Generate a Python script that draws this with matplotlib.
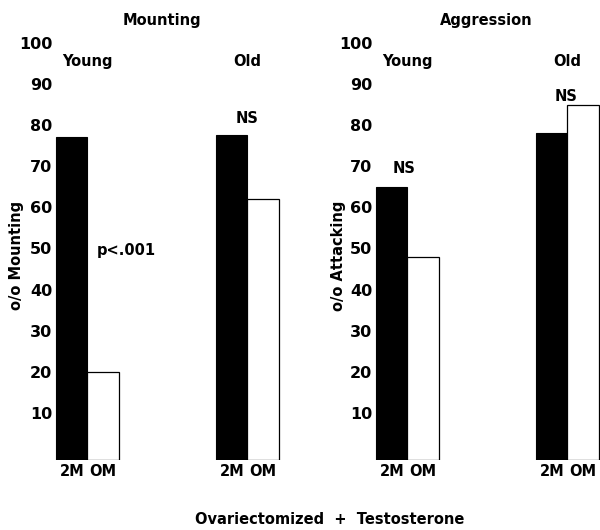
import numpy as np
import matplotlib
matplotlib.use("Agg")
import matplotlib.pyplot as plt

# data (percent of animals)
groups = ["Young", "Old"]
conditions = ["2M", "OM"]
mounting_2m = [77, 77.5]
mounting_om = [20, 62]
attacking_2m = [65, 78]
attacking_om = [48, 85]
yticks = [10, 20, 30, 40, 50, 60, 70, 80, 90, 100]

plt.rcParams['font.family'] = ['DejaVu Sans']
plt.rcParams['font.weight'] = 'bold'

W, H = 600, 530
BASE = -1.5      # bars start a touch below the zero of the tick scale
BAR_W = 0.195
X_LEFT = -0.203  # data x at the axes' left edge
X_SPAN = 1.5


def draw_panel(ax, vals_2m, vals_om, ylabel, label_x):
    x = np.arange(len(groups))
    ax.bar(x - BAR_W / 2, np.asarray(vals_2m) - BASE, BAR_W, bottom=BASE,
           color='black', edgecolor='black', linewidth=0.8)
    ax.bar(x + BAR_W / 2, np.asarray(vals_om) - BASE, BAR_W, bottom=BASE,
           color='white', edgecolor='black', linewidth=0.9)

    ax.set_xlim(X_LEFT, X_LEFT + X_SPAN)
    ax.set_ylim(BASE, 100)
    ax.set_yticks(yticks)
    ax.set_yticklabels([str(t) for t in yticks], fontsize=11.5, fontweight='bold')
    ax.tick_params(axis='y', length=0, pad=2)

    tick_pos = np.concatenate([x - BAR_W / 2, x + BAR_W / 2])
    tick_lab = [conditions[0]] * len(x) + [conditions[1]] * len(x)
    ax.set_xticks(tick_pos)
    ax.set_xticklabels(tick_lab, fontsize=10.5, fontweight='bold')
    ax.tick_params(axis='x', length=0, pad=3)

    for s in ax.spines.values():
        s.set_visible(False)
    ax.patch.set_alpha(0)

    ax.set_ylabel(ylabel, fontsize=10.5, fontweight='bold')
    ax.yaxis.set_label_coords(label_x, 0.49)

    for i, g in enumerate(groups):
        ax.text(x[i], 95.6, g, ha='center', va='center',
                fontsize=10.5, fontweight='bold')


fig = plt.figure(figsize=(W / 100, H / 100), dpi=100)
fig.patch.set_facecolor('white')

bottom = (H - 460) / H
height = (460 - 43) / H

ax1 = fig.add_axes([55 / W, bottom, 240 / W, height])
ax2 = fig.add_axes([375 / W, bottom, 240 / W, height])

draw_panel(ax1, mounting_2m, mounting_om, "o/o Mounting", -0.13)
draw_panel(ax2, attacking_2m, attacking_om, "o/o Attacking", -0.12)

# significance notes
ax1.text(0.245, 49.6, "p<.001", ha='center', va='center', fontsize=10.5, fontweight='bold')
ax1.text(1.0, 81.6, "NS", ha='center', va='center', fontsize=10.5, fontweight='bold')
ax2.text(-0.02, 69.5, "NS", ha='center', va='center', fontsize=10.5, fontweight='bold')
ax2.text(0.99, 87.0, "NS", ha='center', va='center', fontsize=10.5, fontweight='bold')

fig.text(162 / W, 1 - 20 / H, "Mounting", ha='center', va='center',
         fontsize=10.5, fontweight='bold')
fig.text(486 / W, 1 - 20 / H, "Aggression", ha='center', va='center',
         fontsize=10.5, fontweight='bold')
fig.text(330 / W, 1 - 520 / H, "Ovariectomized  +  Testosterone", ha='center',
         va='center', fontsize=10.5, fontweight='bold')

fig.savefig("out.png", dpi=100)
